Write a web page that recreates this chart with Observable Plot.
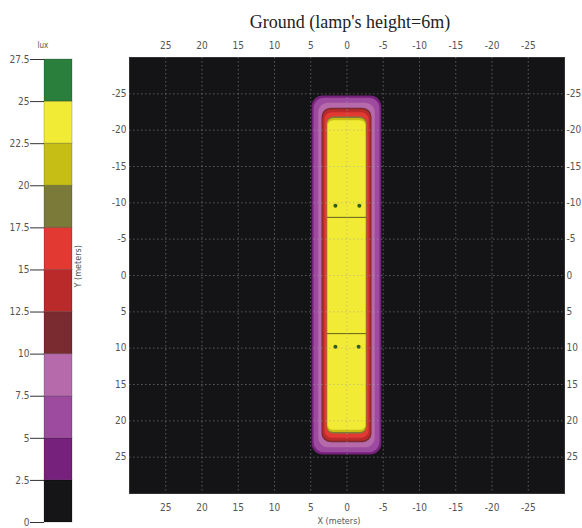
<!DOCTYPE html>
<html><head><meta charset="utf-8">
<script src="https://cdn.jsdelivr.net/npm/d3@7"></script>
<script src="https://cdn.jsdelivr.net/npm/@observablehq/plot@0.6"></script>
<style>
body{margin:0;background:#fff;}
#wrap{position:relative;width:582px;height:528px;overflow:hidden;background:#fff;}
#wrap svg{position:absolute;top:0;left:0;}
</style></head><body><div id="wrap"></div>
<script>
// Colour legend (lux bands)
const luxBreaks = [0, 2.5, 5, 7.5, 10, 12.5, 15, 17.5, 20, 22.5, 25, 27.5];
const luxColors = ["#151517", "#76217b", "#9c4b9f", "#b76aab", "#7a2b2f", "#bb2a2a", "#e23a33", "#7c7a38", "#c6be14", "#f2eb36", "#2b7f3d"];
// Axis ticks (meters)
const axisTicks = [-25, -20, -15, -10, -5, 0, 5, 10, 15, 20, 25];
// Iso-lux regions (lux >= level): half-width in X, half-length in Y (meters)
const contourLevels = [2.5, 5, 7.5, 10, 12.5, 15, 17.5, 20, 22.5];
const contourHalfWidth = [4.8, 4.55, 3.9, 3.45, 3.3, 3.05, 2.75, 2.7, 2.6];
const contourHalfLength = [24.7, 24.4, 23.7, 23.0, 22.8, 22.4, 21.8, 21.6, 21.3];
// Lamp marks and seams
const lampX = [1.6, -1.7, 1.6, -1.6];
const lampY = [-9.6, -9.6, 9.8, 9.8];
const seamY = [-8, 8];
const seamHalfWidth = [2.7, 2.7];

const colorScale = {type: "threshold", domain: luxBreaks.slice(1, -1), range: luxColors};
const font = "'Liberation Sans Narrow', 'DejaVu Sans Condensed', 'Liberation Sans', Arial, sans-serif";

const regions = contourLevels.map((level, i) => ({level, hw: contourHalfWidth[i], hl: contourHalfLength[i]}));
const lamps = lampX.map((x, i) => ({x, y: lampY[i]}));
const seams = seamY.map((y, i) => ({y, hw: seamHalfWidth[i]}));
const fmt = d => String(d);

const main = Plot.plot({
  width: 582, height: 528,
  marginLeft: 129, marginRight: 18, marginTop: 57, marginBottom: 35,
  style: {fontFamily: font, fontSize: "10px", color: "#555", background: "transparent"},
  x: {domain: [30, -30]},
  y: {domain: [-30, 30], reverse: true},
  color: colorScale,
  marks: [
    Plot.frame({fill: "#141416", stroke: "#333"}),
    ...regions.map((r, i) => Plot.rect([r], {
      x1: d => d.hw, x2: d => -d.hw, y1: d => -d.hl, y2: d => d.hl,
      fill: "level", rx: 11 - i * 0.7
    })),
    Plot.ruleY(seams, {y: "y", x1: d => d.hw, x2: d => -d.hw, stroke: "#5e5e1e", strokeWidth: 1}),
    Plot.dot(lamps, {x: "x", y: "y", r: 2, fill: "#2d5e1f"}),
    Plot.gridX(axisTicks, {stroke: "#a0a0a0", strokeOpacity: 0.5, strokeDasharray: "1.5,2.5"}),
    Plot.gridY(axisTicks, {stroke: "#a0a0a0", strokeOpacity: 0.5, strokeDasharray: "1.5,2.5"}),
    Plot.axisX(axisTicks, {anchor: "top", tickSize: 0, tickPadding: 9, tickFormat: fmt, label: null}),
    Plot.axisX(axisTicks, {anchor: "bottom", tickSize: 0, tickPadding: 10, tickFormat: fmt, label: null}),
    Plot.axisY(axisTicks, {anchor: "left", tickSize: 0, tickPadding: 3, tickFormat: fmt, label: null}),
    Plot.axisY(axisTicks, {anchor: "right", tickSize: 0, tickPadding: 2, tickFormat: fmt, label: null}),
    Plot.text(["Ground (lamp's height=6m)"], {frameAnchor: "top", dx: 3, dy: -42, fontSize: 18, fontFamily: "'Liberation Serif', 'Times New Roman', serif", fill: "#222"}),
    Plot.text(["X (meters)"], {frameAnchor: "bottom", dx: -8, dy: 30, fontSize: 9, fill: "#555"}),
    Plot.text(["Y (meters)"], {frameAnchor: "left", dx: -51, dy: 12, rotate: -90, fontSize: 9, fill: "#555"})
  ]
});

const bands = luxColors.map((c, i) => ({lo: luxBreaks[i], hi: luxBreaks[i + 1]}));
const legend = Plot.plot({
  width: 100, height: 528,
  marginLeft: 44, marginRight: 28, marginTop: 59, marginBottom: 6,
  style: {fontFamily: font, fontSize: "10px", color: "#555", background: "transparent"},
  y: {domain: [0, 27.5]},
  color: colorScale,
  marks: [
    Plot.rect(bands, {y1: "lo", y2: "hi", fill: "lo", stroke: "#000", strokeOpacity: 0.2, strokeWidth: 1}),
    Plot.axisY(luxBreaks, {anchor: "left", tickSize: 14, tickPadding: 1, tickFormat: fmt, label: null, stroke: "#333"}),
    Plot.text(["lux"], {frameAnchor: "top-left", dx: -7, dy: -17, fontSize: 8, fill: "#555"})
  ]
});

const wrap = document.getElementById("wrap");
wrap.appendChild(main);
wrap.appendChild(legend);
</script></body></html>
